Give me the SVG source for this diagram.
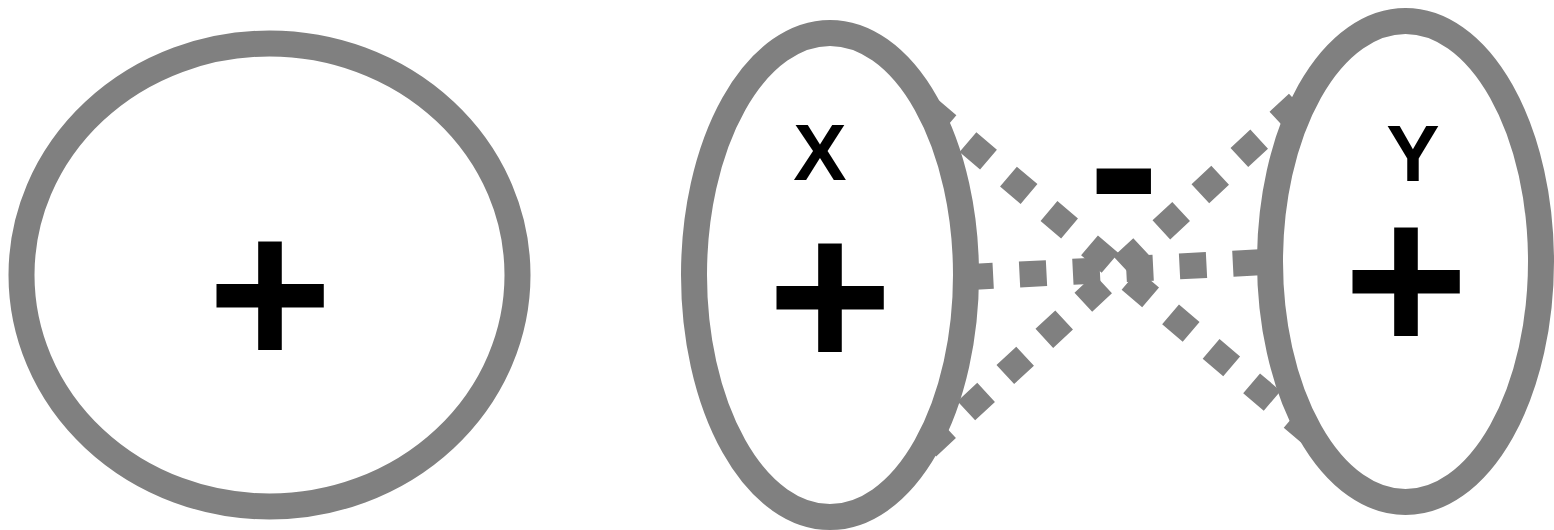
<svg xmlns="http://www.w3.org/2000/svg" width="1554" height="530" viewBox="0 0 1554 530">
  <style>
    .shape { fill: none; stroke: #808080; stroke-width: 26; }
    .edge { fill: none; stroke: #808080; stroke-width: 26; stroke-dasharray: 27 26.2; }
    .sign { font-family: "Liberation Sans", Arial, sans-serif; font-weight: bold; font-size: 214px; fill: #000; text-anchor: middle; }
    .label { font-family: "Liberation Sans", Arial, sans-serif; font-weight: bold; font-size: 80px; fill: #000; text-anchor: middle; }
  </style>
  <rect width="1554" height="530" fill="#ffffff"/>
  <g id="connectors">
    <line class="edge" x1="927.4" y1="107.6" x2="1311.9" y2="434.6"/>
    <line class="edge" x1="927.3" y1="446.9" x2="1297.8" y2="103.3"/>
    <line class="edge" style="stroke-dasharray: 27 26.4" x1="966.2" y1="277.2" x2="1259.8" y2="262.3"/>
  </g>
  <g id="node-left">
    <ellipse class="shape" cx="269.5" cy="275" rx="248" ry="231.5"/>
    <text class="sign" x="270" y="367">+</text>
  </g>
  <g id="node-x">
    <ellipse class="shape" cx="830" cy="275" rx="136" ry="242"/>
    <text class="label" x="820" y="180">X</text>
    <text class="sign" x="830" y="368.5">+</text>
  </g>
  <g id="node-y">
    <ellipse class="shape" cx="1405.5" cy="261.5" rx="135.5" ry="240.5"/>
    <text class="label" x="1413" y="181">Y</text>
    <text class="sign" x="1406" y="352.5">+</text>
  </g>
  <g id="relation">
    <text class="sign" x="1124" y="237">-</text>
  </g>
</svg>
